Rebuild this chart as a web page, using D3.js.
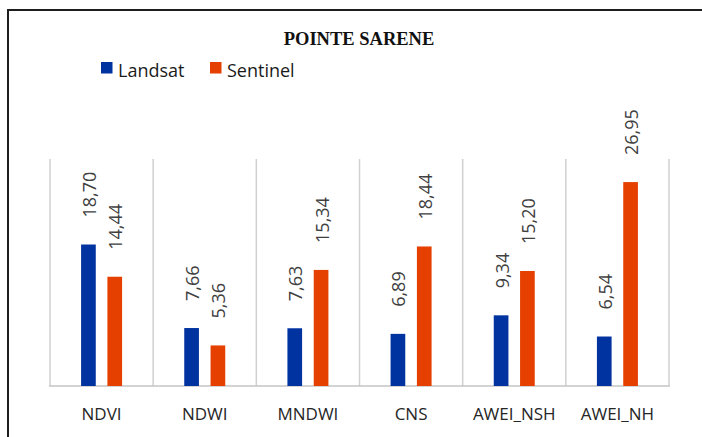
<!DOCTYPE html>
<html>
<head>
<meta charset="utf-8">
<script src="https://cdn.jsdelivr.net/npm/d3@7"></script>
<style>
  html, body { margin: 0; padding: 0; background: #fff; }
  svg { display: block; }
</style>
</head>
<body>
<svg id="chart" width="702" height="437"></svg>
<script>
const categories = ["NDVI", "NDWI", "MNDWI", "CNS", "AWEI_NSH", "AWEI_NH"];
const seriesNames = ["Landsat", "Sentinel"];
const landsat = [18.70, 7.66, 7.63, 6.89, 9.34, 6.54];
const sentinel = [14.44, 5.36, 15.34, 18.44, 15.20, 26.95];
const colors = ["#0032a0", "#e54000"];
const title = "POINTE SARENE";

const svg = d3.select("#chart");

// outer frame (right and bottom run off the picture)
svg.append("rect")
  .attr("x", 8).attr("y", 10)
  .attr("width", 720).attr("height", 460)
  .attr("fill", "none").attr("stroke", "#1e1e1e").attr("stroke-width", 2);

const x0 = d3.scaleBand().domain(categories).range([50, 669]).padding(0);
const bw = x0.bandwidth();
const x1 = d3.scaleBand().domain(seriesNames)
  .range([bw / 2 - 20.5, bw / 2 + 20.5]).paddingInner(0.4423);
const y = d3.scaleLinear().domain([0, 30]).range([386, 159]);

// vertical separators
const seps = x0.domain().map(c => x0(c)).concat([x0.range()[1]]);
svg.append("g").selectAll("line").data(seps).join("line")
  .attr("x1", d => d).attr("x2", d => d)
  .attr("y1", y(30)).attr("y2", y(0))
  .attr("stroke", "#d0d0d0").attr("stroke-width", 1.5);

// baseline
svg.append("line")
  .attr("x1", 49).attr("x2", 670)
  .attr("y1", y(0)).attr("y2", y(0))
  .attr("stroke", "#c4c4c4").attr("stroke-width", 1.5);

const data = categories.map((c, i) => ({
  cat: c,
  vals: [
    { s: "Landsat", v: landsat[i], col: colors[0] },
    { s: "Sentinel", v: sentinel[i], col: colors[1] }
  ]
}));

const groups = svg.append("g").selectAll("g").data(data).join("g")
  .attr("transform", d => `translate(${x0(d.cat)},0)`);

groups.selectAll("rect").data(d => d.vals).join("rect")
  .attr("x", d => x1(d.s))
  .attr("width", x1.bandwidth())
  .attr("y", d => y(d.v))
  .attr("height", d => y(0) - y(d.v))
  .attr("fill", d => d.col);

groups.selectAll("text").data(d => d.vals).join("text")
  .attr("transform", d => `translate(${x1(d.s) + x1.bandwidth() / 2 + 7.5},${y(d.v) - 27}) rotate(-90)`)
  .attr("text-anchor", "start")
  .attr("font-family", "Open Sans, Noto Sans, sans-serif")
  .attr("font-size", 18)
  .attr("fill", "#404040")
  .text(d => d.v.toFixed(2).replace(".", ","));

// x axis labels
const xAxis = d3.axisBottom(x0).tickSize(0).tickPadding(0);
const ax = svg.append("g").attr("transform", `translate(0,${y(0)})`).call(xAxis);
ax.select(".domain").remove();
ax.selectAll("text")
  .attr("y", 34)
  .attr("dy", 0)
  .attr("font-family", "Open Sans, Noto Sans, sans-serif")
  .attr("font-size", 17)
  .attr("fill", "#262626");

// title
svg.append("text")
  .attr("x", 359).attr("y", 45)
  .attr("text-anchor", "middle")
  .attr("font-family", "Liberation Serif, serif")
  .attr("font-weight", "bold")
  .attr("font-size", 18.5)
  .attr("fill", "#111")
  .text(title);

// legend
const legendX = [101, 210];
const leg = svg.append("g").selectAll("g").data(seriesNames).join("g")
  .attr("transform", (d, i) => `translate(${legendX[i]},62)`);
leg.append("rect").attr("width", 11.5).attr("height", 11.5)
  .attr("fill", (d, i) => colors[i]);
leg.append("text").attr("x", 17).attr("y", 14.5)
  .attr("font-family", "Open Sans, Noto Sans, sans-serif")
  .attr("font-size", 18)
  .attr("fill", "#1a1a1a")
  .text(d => d);
</script>
</body>
</html>
